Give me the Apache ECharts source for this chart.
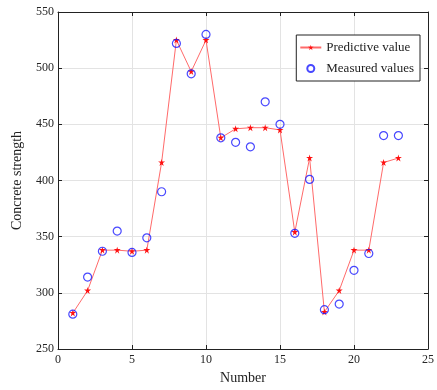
<!DOCTYPE html>
<html>
<head>
<meta charset="utf-8">
<script src="https://cdn.jsdelivr.net/npm/echarts@6/dist/echarts.min.js"></script>
<style>
  html, body { margin: 0; padding: 0; background: #fff; }
  #chart { width: 437px; height: 390px; }
</style>
</head>
<body>
<div id="chart"></div>
<script>
// sample numbers 1..23
const numbers = [1, 2, 3, 4, 5, 6, 7, 8, 9, 10, 11, 12, 13, 14, 15, 16, 17, 18, 19, 20, 21, 22, 23]
const predictive = [282, 302, 338, 338, 337, 338, 416, 525, 497, 525, 438, 446, 447, 447, 445, 354, 420, 283, 302, 338, 338, 416, 420]
const measured = [281, 314, 337, 355, 336, 349, 390, 522, 495, 530, 438, 434, 430, 470, 450, 353, 401, 285, 290, 320, 335, 440, 440]

const font = "'Liberation Serif', 'Times New Roman', serif"
const pair = (arr) => numbers.map((n, i) => [n, arr[i]])

// asterisk-like marker
const starPath = "path://M5,0 L6,3.5 L10,3.5 L6.8,5.8 L8,10 L5,7.4 L2,10 L3.2,5.8 L0,3.5 L4,3.5 Z"

const chart = echarts.init(document.getElementById("chart"))
const boxAxis = {
  axisLine: { show: true, onZero: false, lineStyle: { color: "#222", width: 1 } },
  axisTick: { show: true, inside: true, length: 4, lineStyle: { color: "#222" } },
  axisLabel: { show: false },
  splitLine: { show: false },
}
chart.setOption({
  backgroundColor: "#fff",
  textStyle: { fontFamily: font },
  grid: { left: 58, right: 5, top: 12, bottom: 40 },
  legend: {
    right: 17,
    top: 35,
    orient: "vertical",
    backgroundColor: "#fff",
    borderColor: "#222",
    borderWidth: 1,
    borderRadius: 0,
    padding: [6, 6, 6, 3],
    itemGap: 8,
    itemWidth: 21,
    itemHeight: 7,
    textStyle: { fontFamily: font, fontSize: 13, color: "#222" },
    data: ["Predictive value", "Measured values"],
  },
  xAxis: [
    {
      type: "value",
      min: 0,
      max: 25,
      interval: 5,
      name: "Number",
      nameLocation: "middle",
      nameGap: 22,
      nameTextStyle: { fontFamily: font, fontSize: 14, color: "#222" },
      axisLine: { show: true, onZero: false, lineStyle: { color: "#222" } },
      axisTick: { show: true, inside: true, length: 4, lineStyle: { color: "#222" } },
      axisLabel: { fontFamily: font, fontSize: 12, color: "#262626", margin: 5 },
      splitLine: { show: true, lineStyle: { color: "#e3e3e3" } },
    },
    Object.assign({ type: "value", position: "top", min: 0, max: 25, interval: 5 }, boxAxis),
  ],
  yAxis: [
    {
      type: "value",
      min: 250,
      max: 550,
      interval: 50,
      name: "Concrete strength",
      nameLocation: "middle",
      nameGap: 34,
      nameTextStyle: { fontFamily: font, fontSize: 14, color: "#222" },
      axisLine: { show: true, onZero: false, lineStyle: { color: "#222" } },
      axisTick: { show: true, inside: true, length: 4, lineStyle: { color: "#222" } },
      axisLabel: { fontFamily: font, fontSize: 12, color: "#262626", margin: 4 },
      splitLine: { show: true, lineStyle: { color: "#e3e3e3" } },
    },
    Object.assign({ type: "value", position: "right", min: 250, max: 550, interval: 50 }, boxAxis),
  ],
  series: [
    {
      name: "Predictive value",
      type: "line",
      data: pair(predictive),
      symbol: starPath,
      symbolSize: 7,
      itemStyle: { color: "#ff1010" },
      lineStyle: { color: "#ff6a6a", width: 1 },
      animation: false,
      z: 3,
    },
    {
      name: "Measured values",
      type: "scatter",
      data: pair(measured),
      symbol: "circle",
      symbolSize: 8,
      itemStyle: { color: "rgba(255,255,255,0)", borderColor: "#1a1aff", borderWidth: 1.2 },
      animation: false,
      z: 4,
    },
  ],
})
</script>
</body>
</html>
